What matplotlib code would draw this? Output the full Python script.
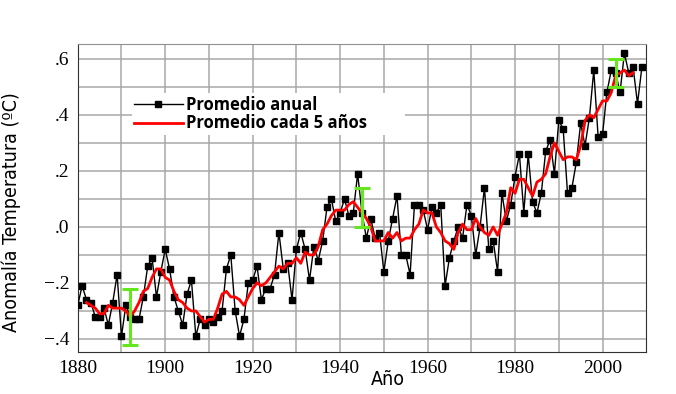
import numpy as np
import matplotlib
matplotlib.use('Agg')
from matplotlib import pyplot as plt

# annual mean anomaly (ºC), 1880-2009
years = np.arange(1880, 2010)
annual = [-0.28, -0.21, -0.26, -0.27, -0.32, -0.32, -0.29, -0.35, -0.27, -0.17,
          -0.39, -0.28, -0.32, -0.33, -0.33, -0.25, -0.14, -0.11, -0.25, -0.16,
          -0.08, -0.15, -0.25, -0.30, -0.35, -0.24, -0.19, -0.39, -0.33, -0.35,
          -0.33, -0.34, -0.32, -0.30, -0.15, -0.10, -0.30, -0.39, -0.33, -0.20,
          -0.19, -0.14, -0.26, -0.22, -0.22, -0.17, -0.02, -0.15, -0.13, -0.26,
          -0.08, -0.02, -0.08, -0.19, -0.07, -0.12, -0.05, 0.07, 0.10, 0.02,
          0.05, 0.10, 0.04, 0.05, 0.19, 0.05, -0.04, 0.03, -0.04, -0.02,
          -0.16, -0.05, 0.03, 0.11, -0.10, -0.10, -0.17, 0.08, 0.08, 0.06,
          -0.01, 0.07, 0.05, 0.08, -0.21, -0.11, -0.05, 0.00, -0.04, 0.08,
          0.04, -0.10, 0.00, 0.14, -0.08, -0.05, -0.16, 0.12, 0.02, 0.08,
          0.18, 0.26, 0.05, 0.26, 0.09, 0.05, 0.12, 0.27, 0.31, 0.19,
          0.38, 0.35, 0.12, 0.14, 0.23, 0.37, 0.29, 0.39, 0.56, 0.32,
          0.33, 0.48, 0.56, 0.55, 0.48, 0.62, 0.55, 0.57, 0.44, 0.57]

# 5-year mean, 1882-2007
years5 = np.arange(1882, 2008)
mean5 = [-0.27, -0.28, -0.29, -0.31, -0.31, -0.28, -0.29, -0.29, -0.29, -0.30,
         -0.32, -0.30, -0.27, -0.23, -0.22, -0.18, -0.15, -0.15, -0.18, -0.19,
         -0.23, -0.26, -0.27, -0.29, -0.30, -0.30, -0.32, -0.34, -0.33, -0.33,
         -0.29, -0.24, -0.23, -0.25, -0.25, -0.26, -0.28, -0.25, -0.22, -0.20,
         -0.21, -0.20, -0.18, -0.16, -0.14, -0.15, -0.13, -0.13, -0.11, -0.13,
         -0.09, -0.10, -0.10, -0.07, -0.01, 0.01, 0.04, 0.06, 0.06, 0.06,
         0.08, 0.09, 0.07, 0.05, 0.03, 0.00, -0.05, -0.05, -0.05, -0.02,
         -0.04, -0.02, -0.05, -0.04, -0.04, -0.01, 0.01, 0.06, 0.05, 0.05,
         0.00, -0.02, -0.05, -0.06, -0.08, -0.02, 0.01, -0.01, -0.01, 0.03,
         0.00, -0.02, -0.03, 0.00, -0.03, 0.01, 0.05, 0.14, 0.12, 0.17,
         0.17, 0.14, 0.11, 0.16, 0.17, 0.19, 0.25, 0.30, 0.27, 0.24,
         0.25, 0.25, 0.24, 0.29, 0.38, 0.40, 0.39, 0.42, 0.45, 0.45,
         0.48, 0.54, 0.55, 0.56, 0.54, 0.55]

# barras de incertidumbre
err_years = [1892, 1945, 2003]
err_low = [-0.42, 0.00, 0.50]
err_high = [-0.22, 0.14, 0.60]

xticks = [1880, 1900, 1920, 1940, 1960, 1980, 2000]
yticks = [-0.4, -0.2, 0.0, 0.2, 0.4, 0.6]
ylabels = ['\u2212.4', '\u2212.2', '.0', '.2', '.4', '.6']

fig = plt.figure(figsize=(6.76, 3.94), dpi=100)
ax = fig.add_axes([0.115, 0.107, 0.841, 0.782])

ax.plot(years, annual, color='black', lw=1.0, marker='s', ms=4.2,
        label='Promedio anual', zorder=3)
ax.plot(years5, mean5, color='#ff0000', lw=2.0, label='Promedio cada 5 años',
        zorder=4)

lo = np.array(err_low)
hi = np.array(err_high)
ax.errorbar(err_years, (lo + hi) / 2, yerr=(hi - lo) / 2, fmt='none',
            ecolor='#66e61e', elinewidth=2.2, capsize=6, capthick=2.2, zorder=5)

serif = ['Liberation Serif', 'DejaVu Serif']
ax.set_xlim(1880, 2010)
ax.set_ylim(-0.446, 0.654)
ax.set_xticks(xticks, labels=[str(x) for x in xticks])
ax.set_xticks(np.arange(1890, 2010, 10), minor=True)
ax.set_yticks(yticks, labels=ylabels)
ax.set_yticks(np.arange(-0.3, 0.6, 0.2), minor=True)
for lab in ax.get_xticklabels() + ax.get_yticklabels():
    lab.set_family(serif)
    lab.set_size(14)
ax.grid(True, which='both', color='#a8a8a8', lw=1.1, zorder=0)
ax.tick_params(which='both', length=0, pad=6)

ax.spines['top'].set_color('#909090')
for s in ['left', 'bottom', 'right']:
    ax.spines[s].set_color('#303030')

ax.set_xlabel('Año', fontsize=14, family='DejaVu Sans', fontstretch='condensed')
ax.xaxis.set_label_coords(0.546, -0.058)
ax.set_ylabel('Anomalía Temperatura (ºC)', fontsize=14,
              family='DejaVu Sans', fontstretch='condensed')
ax.yaxis.set_label_coords(-0.1, 0.455)

leg = ax.legend(loc='upper left', bbox_to_anchor=(0.095, 0.70, 0.48, 0.14),
                mode='expand', frameon=True, fancybox=False, framealpha=1,
                handlelength=2.9, handletextpad=0.2, borderpad=0.15,
                labelspacing=0.05, borderaxespad=0,
                prop={'family': 'Open Sans', 'weight': 'bold', 'size': 12})
leg.get_frame().set_edgecolor('none')
leg.set_zorder(6)

fig.savefig('out.png', dpi=100)
